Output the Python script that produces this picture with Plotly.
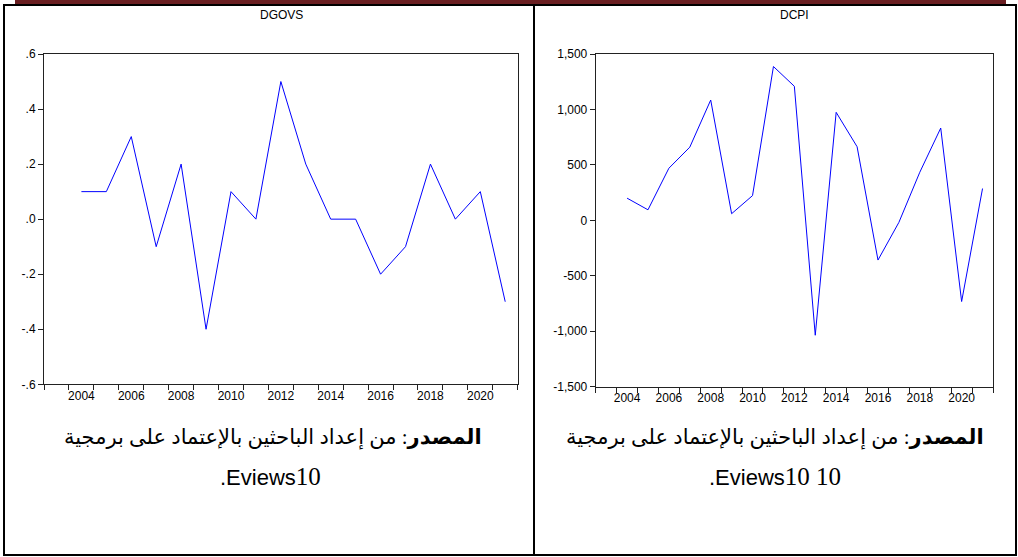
import plotly.graph_objects as go

# ---------------- data ----------------
years = list(range(2004, 2022))
dgovs = [0.1, 0.1, 0.3, -0.1, 0.2, -0.4, 0.1, 0.0, 0.5, 0.2,
         0.0, 0.0, -0.2, -0.1, 0.2, 0.0, 0.1, -0.3]
dcpi = [200, 95, 470, 660, 1085, 60, 223, 1387, 1209, -1036,
        974, 664, -358, -18, 434, 832, -732, 287]

dgovs_ticks = [-0.6, -0.4, -0.2, 0.0, 0.2, 0.4, 0.6]
dgovs_ticktext = ["-.6", "-.4", "-.2", ".0", ".2", ".4", ".6"]
dcpi_ticks = [-1500, -1000, -500, 0, 500, 1000, 1500]
dcpi_ticktext = ["-1,500", "-1,000", "-500", "0", "500", "1,000", "1,500"]
year_labels = list(range(2004, 2021, 2))

titles = ["DGOVS", "DCPI"]
caption1 = "<b>المصدر</b>: من إعداد الباحثين بالإعتماد على برمجية"
caption2_left = ".Eviews<span style=\"font-family:Liberation Serif;font-size:25px\">10</span>"
caption2_right = ".Eviews<span style=\"font-family:Liberation Serif;font-size:25px\">10 10</span>"

# ---------------- layout helpers ----------------
W, H = 1018, 557
def px(x):
    return x / W
def py(y):
    return 1 - y / H

TICKFONT = dict(family="Liberation Sans Narrow, Liberation Sans, Arial", size=12, color="#000")
FRAME = "#222"

fig = go.Figure()
fig.add_trace(go.Scatter(x=years, y=dgovs, mode="lines",
                         line=dict(color="#0000FF", width=1),
                         xaxis="x", yaxis="y", showlegend=False, hoverinfo="skip"))
fig.add_trace(go.Scatter(x=years, y=dcpi, mode="lines",
                         line=dict(color="#0000FF", width=1),
                         xaxis="x2", yaxis="y2", showlegend=False, hoverinfo="skip"))

def xaxis_cfg(d0, d1, anchor):
    return dict(domain=[px(d0), px(d1)], anchor=anchor, automargin=False,
                range=[2002.5, 2021.5], tickmode="array", tickvals=year_labels,
                ticktext=[str(v) for v in year_labels], ticks="",
                showgrid=False, zeroline=False, showline=True, mirror=True,
                linecolor=FRAME, linewidth=1, tickfont=TICKFONT,
                minor=dict(tickmode="linear", tick0=2002.5, dtick=1,
                           ticks="outside", ticklen=5, tickcolor=FRAME,
                           tickwidth=1, showgrid=False))

def yaxis_cfg(d0, d1, anchor, rng, tv, tt):
    return dict(domain=[py(d1), py(d0)], anchor=anchor, range=rng, automargin=False,
                tickmode="array", tickvals=tv, ticktext=tt,
                ticks="outside", ticklen=5, tickcolor=FRAME, tickwidth=1,
                showgrid=False, zeroline=False, showline=True, mirror=True,
                linecolor=FRAME, linewidth=1, tickfont=TICKFONT)

fig.update_layout(
    template="none",
    width=W, height=H, autosize=False, margin=dict(l=0, r=0, t=0, b=0, pad=0),
    paper_bgcolor="white", plot_bgcolor="white", showlegend=False,
    xaxis=xaxis_cfg(44, 517.7, "y"),
    yaxis=yaxis_cfg(54, 384.3, "x", [-0.6, 0.6], dgovs_ticks, dgovs_ticktext),
    xaxis2=xaxis_cfg(595.7, 993, "y2"),
    yaxis2=yaxis_cfg(54, 386.7, "x2", [-1500, 1500], dcpi_ticks, dcpi_ticktext),
)

# titles
for t, cx in zip(titles, [281, 794]):
    fig.add_annotation(x=px(cx), y=py(15), xref="paper", yref="paper", text=t,
                       showarrow=False, xanchor="center", yanchor="middle",
                       font=dict(family="Liberation Sans, Arial", size=12, color="#000"))

# captions
ARFONT = dict(family="Liberation Serif, DejaVu Sans", size=21, color="#000")
for cx in [273, 775]:
    fig.add_annotation(x=px(cx), y=py(437), xref="paper", yref="paper", text=caption1,
                       showarrow=False, xanchor="center", yanchor="middle", font=ARFONT)
fig.add_annotation(x=px(270), y=py(476), xref="paper", yref="paper", text=caption2_left,
                   showarrow=False, xanchor="center", yanchor="middle",
                   font=dict(family="Liberation Sans, Arial", size=22, color="#000"))
fig.add_annotation(x=px(775), y=py(476), xref="paper", yref="paper", text=caption2_right,
                   showarrow=False, xanchor="center", yanchor="middle",
                   font=dict(family="Liberation Sans, Arial", size=22, color="#000"))

# table borders and top bar
shapes = [
    dict(type="rect", x0=px(15), x1=px(1006), y0=py(0), y1=py(4),
         fillcolor="#6A1F22", line=dict(width=0)),
    dict(type="line", x0=px(3), x1=px(1017), y0=py(5), y1=py(5), line=dict(color="#000", width=2)),
    dict(type="line", x0=px(3), x1=px(1017), y0=py(555), y1=py(555), line=dict(color="#000", width=2)),
    dict(type="line", x0=px(4), x1=px(4), y0=py(4), y1=py(556), line=dict(color="#000", width=2)),
    dict(type="line", x0=px(534), x1=px(534), y0=py(4), y1=py(556), line=dict(color="#000", width=2)),
    dict(type="line", x0=px(1016), x1=px(1016), y0=py(4), y1=py(556), line=dict(color="#000", width=2)),
]
for s in shapes:
    s.update(xref="paper", yref="paper", layer="above")
fig.update_layout(shapes=shapes)

fig.write_html("out.html")
